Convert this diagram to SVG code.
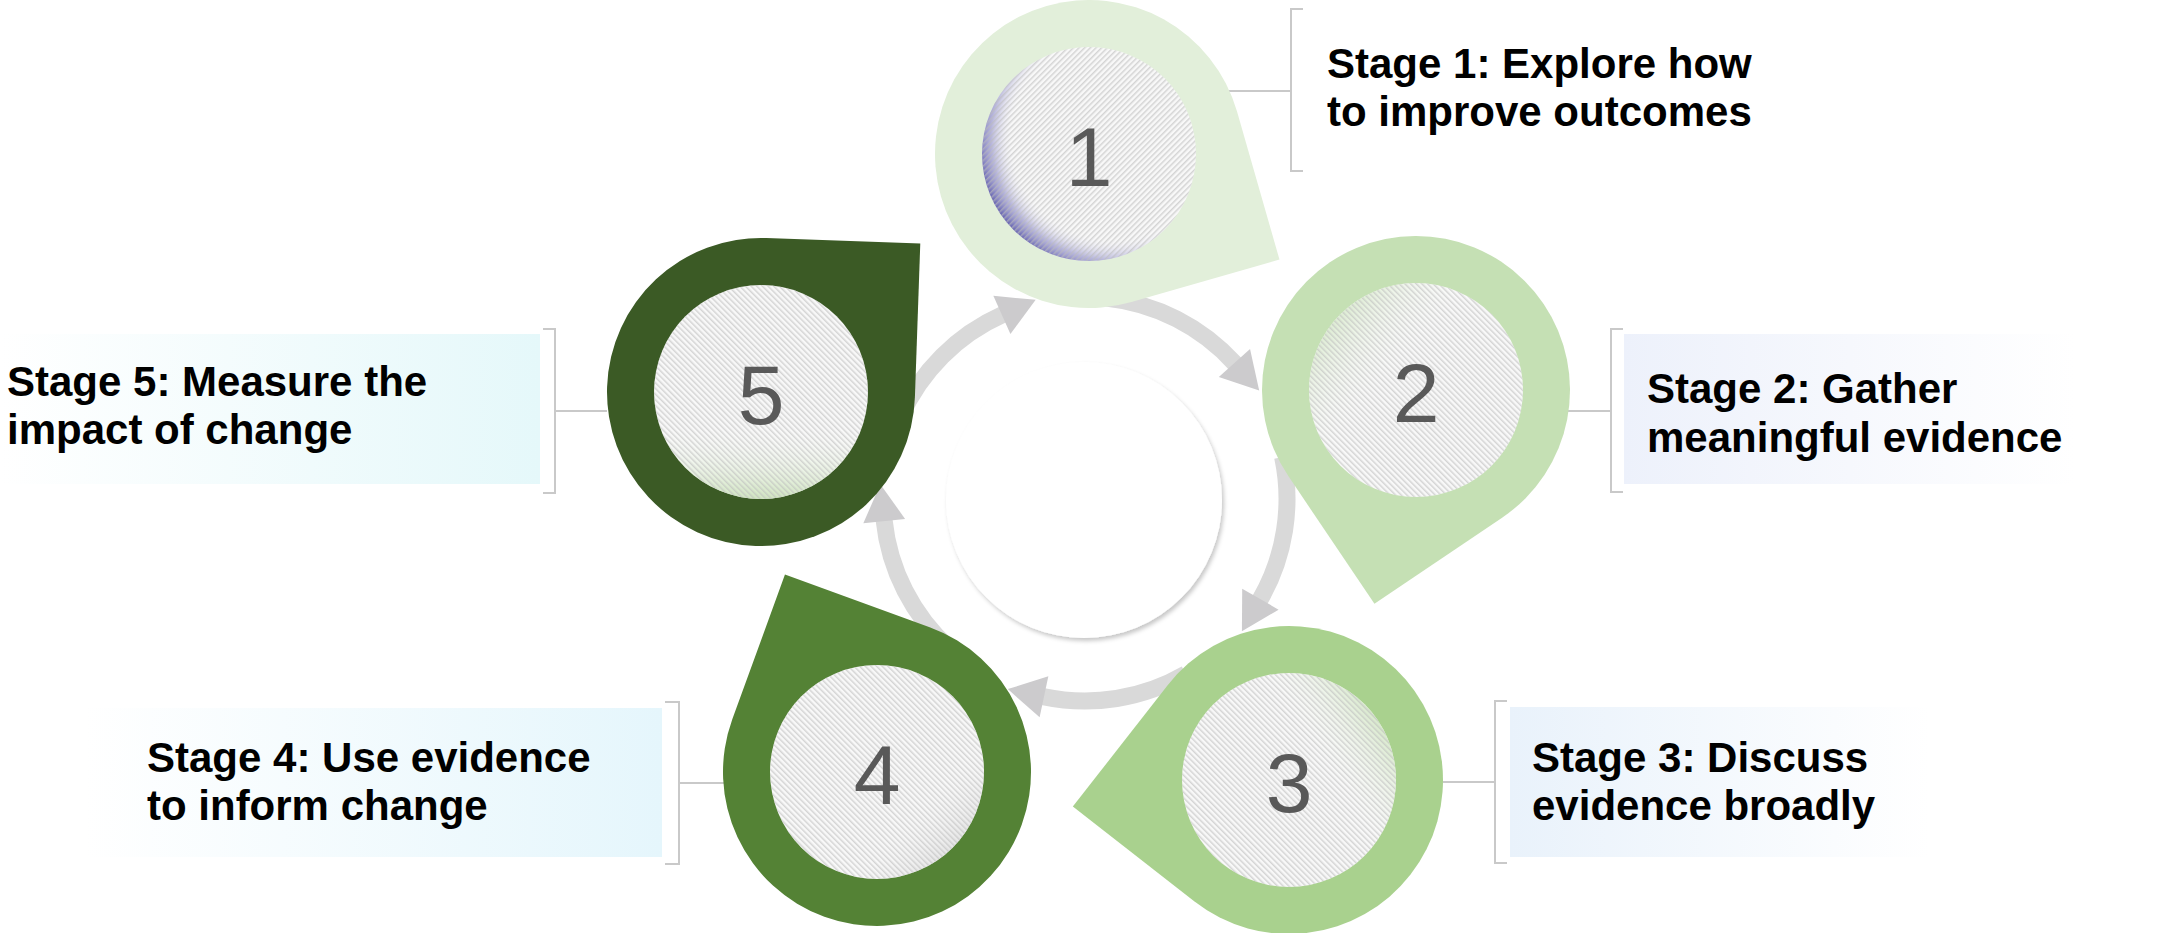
<svg xmlns="http://www.w3.org/2000/svg" xmlns:xlink="http://www.w3.org/1999/xlink" width="2160" height="933" viewBox="0 0 2160 933">
<style>
.lbl{font-family:"Liberation Sans",Arial,sans-serif;font-weight:bold;font-size:42px;fill:#000}
.num{font-family:"Liberation Sans",Arial,sans-serif;font-size:84px;fill:#595959;text-anchor:middle}
.brk{fill:none;stroke:#c9c9c9;stroke-width:2}
.ring{fill:none;stroke:#d9d9d9;stroke-width:17}
.head{fill:#cccbcd}
.base{fill:#f8f8f8}
</style>
<defs>
<path id="drop" d="M-154,0 A154,154 0 0 1 0,-154 L154,-154 L154,0 A154,154 0 0 1 0,154 A154,154 0 0 1 -154,0 Z"/>
<path id="ah" d="M-1,-21 L36,0 L-1,21 Z"/>
<pattern id="hatchA" patternUnits="userSpaceOnUse" width="4" height="4" patternTransform="rotate(45)">
<rect width="1.5" height="4" fill="#bdbdbd" fill-opacity="0.6"/>
</pattern>
<pattern id="hatchB" patternUnits="userSpaceOnUse" width="4" height="4" patternTransform="rotate(-45)">
<rect width="1.5" height="4" fill="#bdbdbd" fill-opacity="0.6"/>
</pattern>
<radialGradient id="g1" cx="0.62" cy="0.42" r="0.64">
<stop offset="0.74" stop-color="#ffffff" stop-opacity="0"/>
<stop offset="0.9" stop-color="#8e8cc9" stop-opacity="0.6"/>
<stop offset="1" stop-color="#6664b0" stop-opacity="0.95"/>
</radialGradient>
<linearGradient id="g2" x1="0.05" y1="0.15" x2="0.4" y2="0.45">
<stop offset="0" stop-color="#cfe5c0" stop-opacity="0.9"/>
<stop offset="1" stop-color="#ffffff" stop-opacity="0"/>
</linearGradient>
<linearGradient id="g3" x1="0.95" y1="0.25" x2="0.65" y2="0.45">
<stop offset="0" stop-color="#d2e6c4" stop-opacity="0.9"/>
<stop offset="1" stop-color="#ffffff" stop-opacity="0"/>
</linearGradient>
<linearGradient id="g4" x1="0.95" y1="0.85" x2="0.7" y2="0.6">
<stop offset="0" stop-color="#cfcfcf" stop-opacity="0.7"/>
<stop offset="1" stop-color="#ffffff" stop-opacity="0"/>
</linearGradient>
<linearGradient id="g5" x1="0.5" y1="1" x2="0.5" y2="0.65">
<stop offset="0" stop-color="#cbe2ba" stop-opacity="0.9"/>
<stop offset="1" stop-color="#ffffff" stop-opacity="0"/>
</linearGradient>
<linearGradient id="b2" x1="0" y1="0" x2="1" y2="0">
<stop offset="0" stop-color="#edf1fb"/>
<stop offset="1" stop-color="#ffffff"/>
</linearGradient>
<linearGradient id="b3" x1="0" y1="0" x2="1" y2="0">
<stop offset="0" stop-color="#e9f2fb"/>
<stop offset="1" stop-color="#ffffff"/>
</linearGradient>
<linearGradient id="b4" x1="0" y1="0" x2="1" y2="0">
<stop offset="0" stop-color="#ffffff"/>
<stop offset="1" stop-color="#e5f6fc"/>
</linearGradient>
<linearGradient id="b5" x1="0" y1="0" x2="1" y2="0">
<stop offset="0" stop-color="#ffffff"/>
<stop offset="1" stop-color="#e5f8fa"/>
</linearGradient>
<filter id="shadow" x="-10%" y="-10%" width="125%" height="125%">
<feDropShadow dx="2" dy="3" stdDeviation="2" flood-color="#000" flood-opacity="0.22"/>
</filter>
</defs>
<rect width="2160" height="933" fill="#ffffff"/>

<g id="center">
<circle cx="1084" cy="500" r="138" fill="#ffffff" filter="url(#shadow)"/>
</g>

<g id="connectors">
<path class="ring" d="M1106.1,298.1 A202,202 0 0 1 1235.1,363.8"/>
<path class="ring" d="M1282.6,457.0 A202,202 0 0 1 1259.9,600.0"/>
<path class="ring" d="M1186.0,673.9 A202,202 0 0 1 1043.0,696.6"/>
<path class="ring" d="M949.8,649.1 A202,202 0 0 1 884.1,520.1"/>
<path class="ring" d="M900.5,416.8 A202,202 0 0 1 1002.8,314.5"/>
<use href="#ah" class="head" transform="translate(1235.1,363.8) rotate(48)"/>
<use href="#ah" class="head" transform="translate(1259.9,600.0) rotate(120)"/>
<use href="#ah" class="head" transform="translate(1043.0,696.6) rotate(192)"/>
<use href="#ah" class="head" transform="translate(884.1,520.1) rotate(264)"/>
<use href="#ah" class="head" transform="translate(1002.8,314.5) rotate(336)"/>
<line class="brk" x1="1228" y1="91" x2="1291" y2="91"/>
<line class="brk" x1="1568" y1="411" x2="1611" y2="411"/>
<line class="brk" x1="1443" y1="782" x2="1495" y2="782"/>
<line class="brk" x1="679" y1="783" x2="724" y2="783"/>
<line class="brk" x1="555" y1="411" x2="607" y2="411"/>
</g>

<g id="label1">
<path class="brk" d="M1303,9 H1291 V171 H1303"/>
<text class="lbl" x="1327" y="78">Stage 1: Explore how</text>
<text class="lbl" x="1327" y="126">to improve outcomes</text>
</g>
<g id="label2">
<rect x="1624" y="334" width="451" height="150" fill="url(#b2)"/>
<path class="brk" d="M1623,329 H1611 V492 H1623"/>
<text class="lbl" x="1647" y="403">Stage 2: Gather</text>
<text class="lbl" x="1647" y="452">meaningful evidence</text>
</g>
<g id="label3">
<rect x="1510" y="707" width="420" height="150" fill="url(#b3)"/>
<path class="brk" d="M1507,701 H1495 V863 H1507"/>
<text class="lbl" x="1532" y="772">Stage 3: Discuss</text>
<text class="lbl" x="1532" y="820">evidence broadly</text>
</g>
<g id="label4">
<rect x="85" y="708" width="577" height="149" fill="url(#b4)"/>
<path class="brk" d="M665,702 H679 V864 H665"/>
<text class="lbl" x="147" y="772">Stage 4: Use evidence</text>
<text class="lbl" x="147" y="820">to inform change</text>
</g>
<g id="label5">
<rect x="0" y="334" width="540" height="150" fill="url(#b5)"/>
<path class="brk" d="M543,329 H555 V493 H543"/>
<text class="lbl" x="7" y="396">Stage 5: Measure the</text>
<text class="lbl" x="7" y="444">impact of change</text>
</g>

<g id="pin1">
<use href="#drop" fill="#e2efda" transform="translate(1089,154) rotate(74)"/>
<circle class="base" cx="1089" cy="154" r="107"/>
<circle cx="1089" cy="154" r="107" fill="url(#g1)"/>
<circle cx="1089" cy="154" r="107" fill="url(#hatchA)"/>
<text class="num" x="1089" y="186">1</text>
</g>
<g id="pin2">
<use href="#drop" fill="#c5e0b4" transform="translate(1416,390) rotate(146)"/>
<circle class="base" cx="1416" cy="390" r="107"/>
<circle cx="1416" cy="390" r="107" fill="url(#g2)"/>
<circle cx="1416" cy="390" r="107" fill="url(#hatchB)"/>
<text class="num" x="1416" y="422">2</text>
</g>
<g id="pin3">
<use href="#drop" fill="#a9d18e" transform="translate(1289,780) rotate(218)"/>
<circle class="base" cx="1289" cy="780" r="107"/>
<circle cx="1289" cy="780" r="107" fill="url(#g3)"/>
<circle cx="1289" cy="780" r="107" fill="url(#hatchB)"/>
<text class="num" x="1289" y="812">3</text>
</g>
<g id="pin4">
<use href="#drop" fill="#548235" transform="translate(877,772) rotate(290)"/>
<circle class="base" cx="877" cy="772" r="107"/>
<circle cx="877" cy="772" r="107" fill="url(#g4)"/>
<circle cx="877" cy="772" r="107" fill="url(#hatchB)"/>
<text class="num" x="877" y="804">4</text>
</g>
<g id="pin5">
<use href="#drop" fill="#3b5a25" transform="translate(761,392) rotate(2)"/>
<circle class="base" cx="761" cy="392" r="107"/>
<circle cx="761" cy="392" r="107" fill="url(#g5)"/>
<circle cx="761" cy="392" r="107" fill="url(#hatchB)"/>
<text class="num" x="761" y="424">5</text>
</g>
</svg>
